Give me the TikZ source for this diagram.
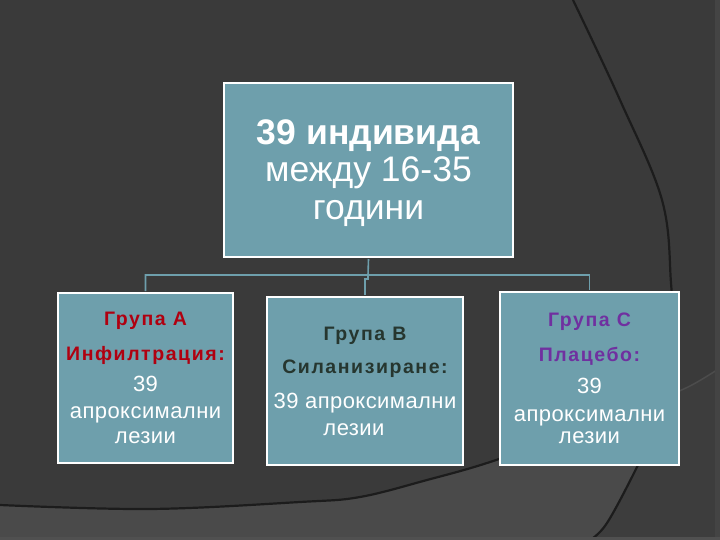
\documentclass[tikz,border=0pt]{standalone}
\usepackage{fontspec}
\setmainfont{Liberation Sans}
\newfontfamily\grpfont[LetterSpace=8]{Liberation Sans}
\newfontfamily\bodyfont[LetterSpace=2]{Liberation Sans}
\definecolor{bgdark}{HTML}{3A3A3A}
\definecolor{bglight}{HTML}{4A4A4A}
\definecolor{bgright}{HTML}{3D3D3D}
\definecolor{arcline}{HTML}{1C1C1C}
\definecolor{faintline}{HTML}{4C4C4C}
\definecolor{edgeright}{HTML}{444444}
\definecolor{edgebottom}{HTML}{505050}
\definecolor{boxfill}{RGB}{110,159,172}
\definecolor{conn}{RGB}{110,159,172}
\definecolor{grpa}{HTML}{B00010}
\definecolor{grpb}{HTML}{26362F}
\definecolor{grpc}{HTML}{7030A0}
\newcommand{\grp}[2]{{\grpfont\bfseries\fontsize{19.5}{25}\selectfont\color{#1}#2}}
\tikzset{
  orgbox/.style={draw=white, line width=2pt, fill=boxfill, inner sep=0pt, align=center, text=white},
  childbox/.style={orgbox, font=\bodyfont\fontsize{22}{25}\selectfont},
  connector/.style={draw=conn, line width=1.6pt},
}
\begin{document}
\begin{tikzpicture}[x=1pt,y=-1pt]
\useasboundingbox (0,0) rectangle (720,540);
% background
\fill[bgdark] (0,0) rectangle (720,540);
\begin{scope}
  \clip (720,0) -- plot[smooth, tension=0.6] coordinates {(573,0) (620,100) (662,200) (671,283) (673,340) (666,405) (637,467) (607,523) (590,540)} -- (720,540) -- cycle;
  \fill[bgright] plot[smooth, tension=0.6] coordinates {(0,505) (150,509) (300,502) (360,497) (427,480) (487,463) (560,437) (620,415) (655,401) (690,386) (720,368)} -- (720,540) -- (0,540) -- cycle;
\end{scope}
\begin{scope}
  \clip (0,0) -- plot[smooth, tension=0.6] coordinates {(573,0) (620,100) (662,200) (671,283) (673,340) (666,405) (637,467) (607,523) (590,540)} -- (0,540) -- cycle;
  \fill[bglight] plot[smooth, tension=0.6] coordinates {(0,505) (150,509) (300,502) (360,497) (427,480) (487,463) (560,437) (620,415) (655,401) (690,386) (720,368)} -- (720,540) -- (0,540) -- cycle;
  \draw[arcline, line width=2.2pt] plot[smooth, tension=0.6] coordinates {(0,505) (150,509) (300,502) (360,497) (427,480) (487,463) (560,437) (620,415) (655,401) (690,386) (720,368)};
\end{scope}
\begin{scope}
  \clip (720,0) -- plot[smooth, tension=0.6] coordinates {(573,0) (620,100) (662,200) (671,283) (673,340) (666,405) (637,467) (607,523) (590,540)} -- (720,540) -- cycle;
  \draw[faintline, line width=1.5pt] plot[smooth, tension=0.6] coordinates {(0,505) (150,509) (300,502) (360,497) (427,480) (487,463) (560,437) (620,415) (655,401) (690,386) (720,368)};
\end{scope}
\draw[arcline, line width=2.2pt] plot[smooth, tension=0.6] coordinates {(573,0) (620,100) (662,200) (671,283) (673,340) (666,405) (637,467) (607,523) (590,540)};
\fill[edgeright] (715,0) rectangle (720,540);
\fill[edgebottom] (0,537) rectangle (720,540);

% boxes
\node[orgbox, minimum width=289pt, minimum height=174pt, font=\fontsize{35.5}{37.5}\selectfont] (top) at (368.5,170)
  {\rule{0pt}{31pt}\textbf{39 индивида}\\между 16-35\\години};
\node[childbox, minimum width=175pt, minimum height=170pt] (a) at (145.5,378)
  {\grp{grpa}{Група А}\\[10pt]
   \grp{grpa}{Инфилтрация:}\\[6pt]
   39\\[2pt]
   апроксимални\\
   лезии};
\node[childbox, minimum width=196pt, minimum height=168pt] (b) at (365,381)
  {\grp{grpb}{Група В}\\[8pt]
   \grp{grpb}{Силанизиране:}\\[10pt]
   39 апроксимални\\[2pt]
   лезии\hspace*{22pt}};
\node[childbox, minimum width=179pt, minimum height=173pt] (c) at (589.5,378.5)
  {\grp{grpc}{Група С}\\[10pt]
   \grp{grpc}{Плацебо:}\\[7pt]
   39\\[3pt]
   апроксимални\\[-3pt]
   лезии};

% connectors
\coordinate (hub) at (368,275);
\draw[connector] ([yshift=-1pt]top.south) -- (hub) -| ([yshift=1pt]a.north);
\draw[connector] (hub) -| ([yshift=1pt]c.north);
\draw[connector] (hub) -- ++(0,4) -| ([yshift=1pt]b.north);
\end{tikzpicture}
\end{document}
